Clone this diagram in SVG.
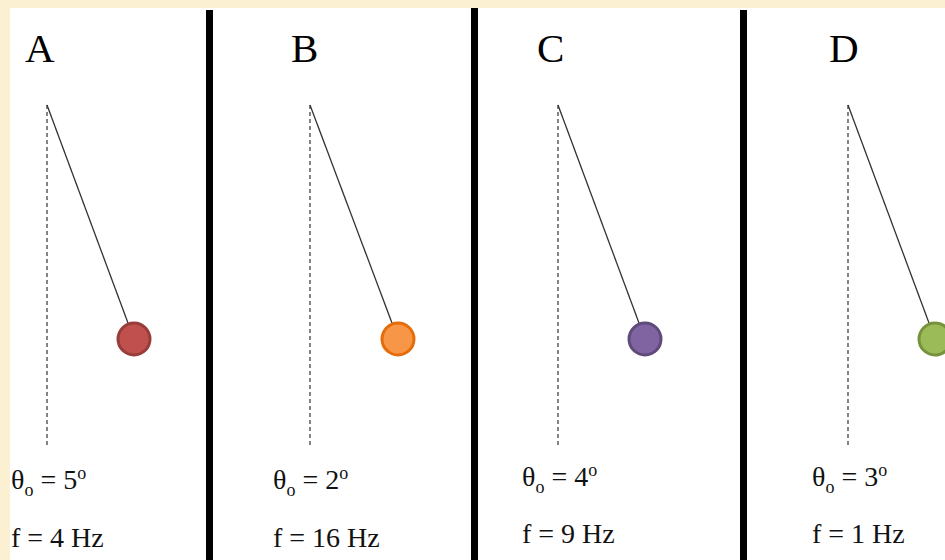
<svg xmlns="http://www.w3.org/2000/svg" width="945" height="560" viewBox="0 0 945 560">
<style>
.lbl{font-family:"Liberation Serif","Times New Roman",serif;font-size:41px;fill:#000}
.val{font-family:"Liberation Serif","Times New Roman",serif;font-size:28px;fill:#111}
.sm{font-size:18px}
.vert{stroke:#333;stroke-width:1.2;stroke-dasharray:4 3;fill:none}
.str{stroke:#333;stroke-width:1.3;fill:none}
.div{fill:#000}
</style>
<rect x="0" y="0" width="945" height="560" fill="#FCF0D2"/>
<rect x="10" y="8" width="935" height="552" fill="#fff"/>
<g id="dividers">
<rect class="div" x="206" y="10" width="7" height="550"/>
<rect class="div" x="471" y="8" width="7" height="552"/>
<rect class="div" x="740" y="10" width="7" height="550"/>
</g>
<g id="pendulumA">
<text class="lbl" x="25" y="62">A</text>
<line class="vert" x1="47" y1="105" x2="47" y2="446"/>
<line class="str" x1="47" y1="105" x2="128" y2="323"/>
<circle cx="134" cy="339" r="16" fill="#C0504D" stroke="#973D3A" stroke-width="3"/>
<text class="val" x="11" y="489">θ<tspan class="sm" dy="7">o</tspan><tspan dy="-7"> = 5</tspan><tspan class="sm" dy="-10">o</tspan></text>
<text class="val" x="11" y="547">f = 4 Hz</text>
</g>
<g id="pendulumB">
<text class="lbl" x="291" y="62">B</text>
<line class="vert" x1="310" y1="105" x2="310" y2="446"/>
<line class="str" x1="310" y1="105" x2="392" y2="323"/>
<circle cx="398" cy="339" r="16" fill="#F79646" stroke="#E46C0A" stroke-width="3"/>
<text class="val" x="273" y="489">θ<tspan class="sm" dy="7">o</tspan><tspan dy="-7"> = 2</tspan><tspan class="sm" dy="-10">o</tspan></text>
<text class="val" x="273" y="547">f = 16 Hz</text>
</g>
<g id="pendulumC">
<text class="lbl" x="537" y="62">C</text>
<line class="vert" x1="558" y1="105" x2="558" y2="446"/>
<line class="str" x1="558" y1="105" x2="639" y2="323"/>
<circle cx="645" cy="339" r="16" fill="#8064A2" stroke="#5F4B7A" stroke-width="3"/>
<text class="val" x="522" y="486">θ<tspan class="sm" dy="7">o</tspan><tspan dy="-7"> = 4</tspan><tspan class="sm" dy="-10">o</tspan></text>
<text class="val" x="522" y="543">f = 9 Hz</text>
</g>
<g id="pendulumD">
<text class="lbl" x="829" y="62">D</text>
<line class="vert" x1="848" y1="105" x2="848" y2="446"/>
<line class="str" x1="848" y1="105" x2="929" y2="323"/>
<circle cx="935" cy="339" r="16" fill="#9BBB59" stroke="#76923C" stroke-width="3"/>
<text class="val" x="812" y="486">θ<tspan class="sm" dy="7">o</tspan><tspan dy="-7"> = 3</tspan><tspan class="sm" dy="-10">o</tspan></text>
<text class="val" x="812" y="543">f = 1 Hz</text>
</g>
</svg>
